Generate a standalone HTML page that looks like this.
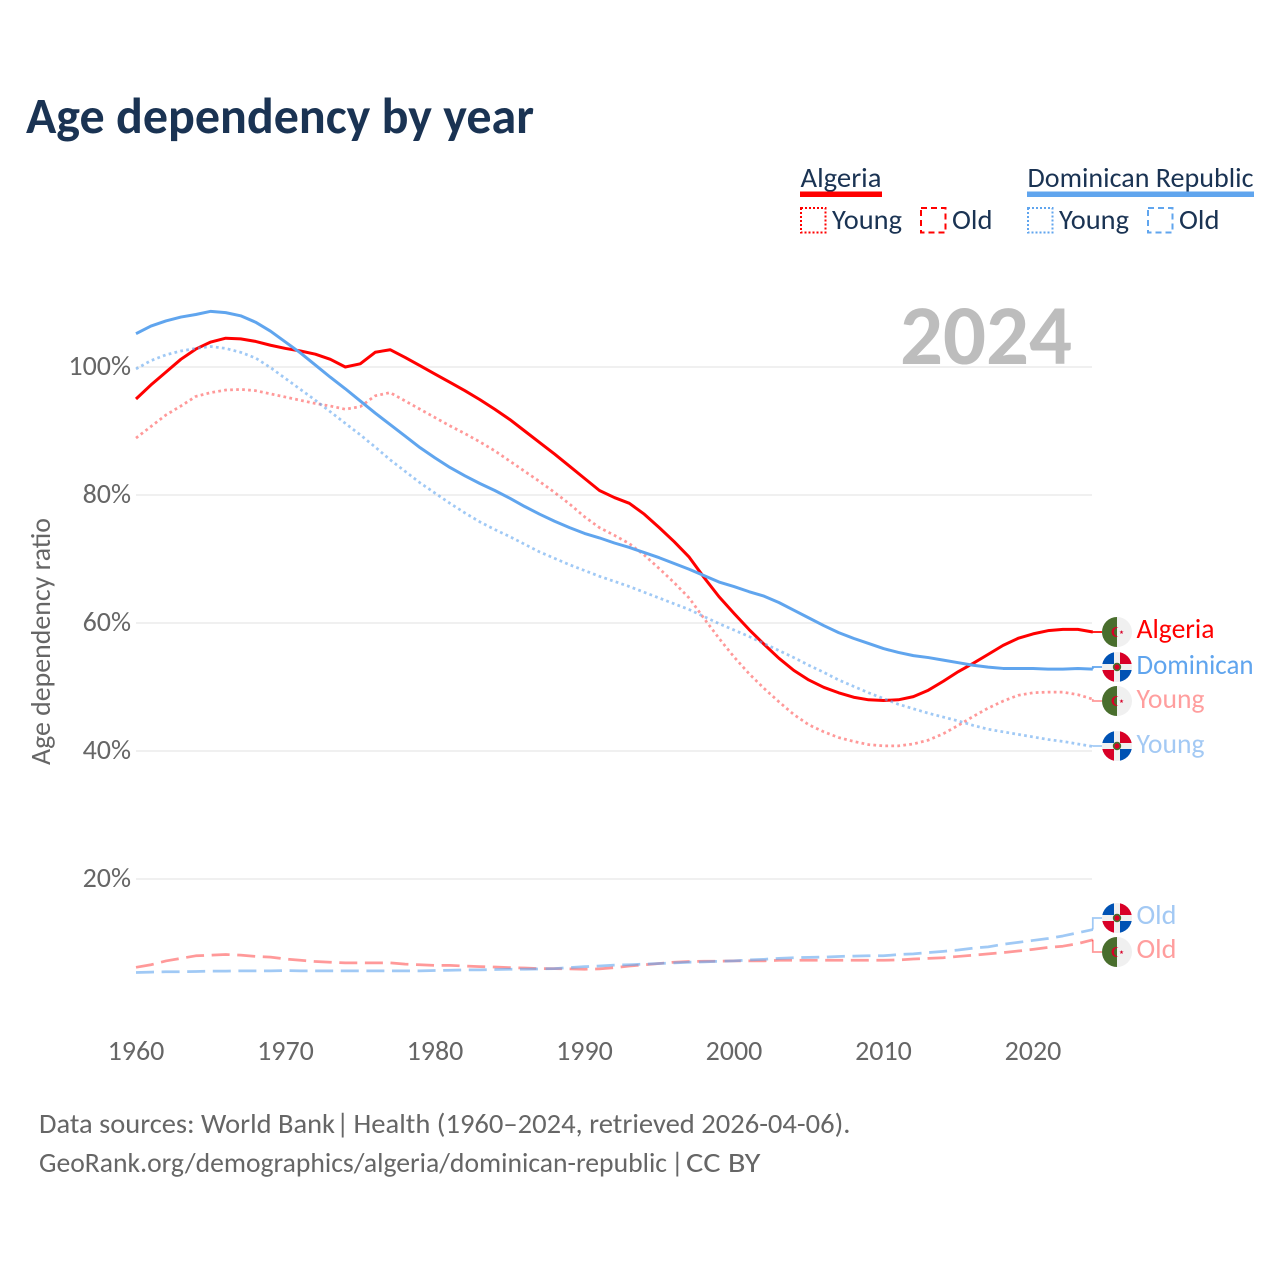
<!DOCTYPE html>
<html lang="en">
<head>
<meta charset="utf-8">
<title>Age dependency by year</title>
<style>
html,body{margin:0;padding:0;background:#fff;}
svg{display:block;font-family:"Carlito","Lato","Liberation Sans",sans-serif;}
</style>
</head>
<body>
<svg id="chart" xmlns="http://www.w3.org/2000/svg" width="1280" height="1280" viewBox="0 0 1280 1280">
<defs>
<clipPath id="flag-clip"><circle cx="0" cy="0" r="15"/></clipPath>
<g id="flag-dz">
<g clip-path="url(#flag-clip)">
<rect x="-15" y="-15" width="30" height="30" fill="#f0f0f0"/>
<rect x="-15" y="-15" width="15" height="30" fill="#496e2d"/>
</g>
<path d="M1.5,-4.6 A5,5 0 1 0 1.5,4.6 A4,4 0 1 1 1.5,-4.6 Z" fill="#d80027"/>
<polygon points="4.5,-2 5,-0.5 6.6,-0.5 5.3,0.5 5.8,2 4.5,1.1 3.2,2 3.7,0.5 2.4,-0.5 4,-0.5" fill="#d80027"/>
</g>
<g id="flag-do">
<g clip-path="url(#flag-clip)">
<rect x="-15" y="-15" width="30" height="30" fill="#f0f0f0"/>
<rect x="-15" y="-15" width="12" height="12" fill="#0052b4"/>
<rect x="3" y="-15" width="12" height="12" fill="#d80027"/>
<rect x="-15" y="3" width="12" height="12" fill="#d80027"/>
<rect x="3" y="3" width="12" height="12" fill="#0052b4"/>
</g>
<circle cx="0" cy="0" r="4.2" fill="#496e2d"/>
<circle cx="0" cy="0" r="2.6" fill="#d80027"/>
</g>
</defs>

<rect x="0" y="0" width="1280" height="1280" fill="#ffffff"/>
<text x="26" y="133" font-size="51" font-weight="700" fill="#1a3353" textLength="508" lengthAdjust="spacingAndGlyphs">Age dependency by year</text>

<g fill="#1a3353" font-size="28">
<g>
<text x="800.5" y="187" textLength="81" lengthAdjust="spacingAndGlyphs">Algeria</text>
<rect x="800" y="191.5" width="82" height="5.5" fill="#ff0000"/>
<rect x="801" y="208" width="24.5" height="24.5" fill="none" stroke="#ff0000" stroke-width="2" stroke-dasharray="2 2"/>
<text x="832" y="229" textLength="70" lengthAdjust="spacingAndGlyphs">Young</text>
<rect x="921" y="208" width="24.5" height="24.5" fill="none" stroke="#ff0000" stroke-width="2" stroke-dasharray="6 4"/>
<text x="952" y="229" textLength="40.5" lengthAdjust="spacingAndGlyphs">Old</text>
</g>
<g>
<text x="1027.5" y="187" textLength="226" lengthAdjust="spacingAndGlyphs">Dominican Republic</text>
<rect x="1027" y="191.5" width="227" height="5.5" fill="#60a5ee"/>
<rect x="1028" y="208" width="24.5" height="24.5" fill="none" stroke="#60a5ee" stroke-width="2" stroke-dasharray="2 2"/>
<text x="1059" y="229" textLength="70" lengthAdjust="spacingAndGlyphs">Young</text>
<rect x="1148" y="208" width="24.5" height="24.5" fill="none" stroke="#60a5ee" stroke-width="2" stroke-dasharray="6 4"/>
<text x="1179" y="229" textLength="40.5" lengthAdjust="spacingAndGlyphs">Old</text>
</g>
</g>

<g id="grid"></g>
<text x="900" y="364" font-size="85" font-weight="700" fill="#bdbdbd" textLength="172" lengthAdjust="spacingAndGlyphs">2024</text>
<g id="yticks"></g>
<g id="xticks"></g>
<text transform="translate(50,765) rotate(-90)" x="0" y="0" font-size="28" fill="#666666" textLength="247" lengthAdjust="spacingAndGlyphs">Age dependency ratio</text>

<g id="series"></g>

<g font-size="28">
<use href="#flag-dz" x="1117" y="632"/>
<text x="1136.5" y="638" fill="#ff0000" textLength="78" lengthAdjust="spacingAndGlyphs">Algeria</text>
<use href="#flag-do" x="1117" y="667"/>
<text x="1136.5" y="674" fill="#60a5ee" textLength="117" lengthAdjust="spacingAndGlyphs">Dominican</text>
<use href="#flag-dz" x="1117" y="701"/>
<text x="1136.5" y="708" fill="#ff9e9e" textLength="68" lengthAdjust="spacingAndGlyphs">Young</text>
<use href="#flag-do" x="1117" y="746"/>
<text x="1136.5" y="753" fill="#a3c9f4" textLength="68" lengthAdjust="spacingAndGlyphs">Young</text>
<use href="#flag-do" x="1117" y="918"/>
<text x="1136.5" y="924" fill="#a3c9f4" textLength="40" lengthAdjust="spacingAndGlyphs">Old</text>
<use href="#flag-dz" x="1117" y="952"/>
<text x="1136.5" y="958" fill="#ff9e9e" textLength="40" lengthAdjust="spacingAndGlyphs">Old</text>
</g>

<g font-size="28" fill="#666666">
<text y="1133"><tspan x="39" textLength="296" lengthAdjust="spacingAndGlyphs">Data sources: World Bank</tspan> <tspan x="336.3">|</tspan> <tspan x="353.5" textLength="497" lengthAdjust="spacingAndGlyphs">Health (1960–2024, retrieved 2026-04-06).</tspan></text>
<text y="1172"><tspan x="39" textLength="628" lengthAdjust="spacingAndGlyphs">GeoRank.org/demographics/algeria/dominican-republic</tspan> <tspan x="670.9">|</tspan> <tspan x="686" textLength="74.5" lengthAdjust="spacingAndGlyphs">CC BY</tspan></text>
</g>

<script>
const startYear = 1960;
const endYear = 2024;
const xTickYears = [1960, 1970, 1980, 1990, 2000, 2010, 2020];
const yTickValues = [20, 40, 60, 80, 100];

const algeriaTotal = [95.0,97.2,99.2,101.2,102.8,103.9,104.5,104.4,104.0,103.4,102.9,102.5,102.0,101.2,100.0,100.5,102.3,102.7,101.5,100.2,98.9,97.6,96.3,94.9,93.4,91.8,90.0,88.2,86.4,84.5,82.6,80.7,79.6,78.7,77.0,74.9,72.7,70.3,67.1,64.1,61.5,59.0,56.7,54.5,52.6,51.1,49.95,49.1,48.4,48.0,47.9,48.0,48.5,49.5,50.9,52.4,53.7,55.1,56.5,57.6,58.3,58.8,59.0,59.0,58.6];
const dominicanTotal = [105.2,106.4,107.2,107.8,108.2,108.7,108.5,108.0,107.0,105.6,103.9,102.2,100.3,98.4,96.6,94.7,92.8,91.0,89.2,87.4,85.8,84.3,83.0,81.8,80.7,79.5,78.2,77.0,75.9,74.9,74.0,73.3,72.5,71.8,71.0,70.2,69.3,68.4,67.4,66.4,65.7,64.9,64.2,63.2,62.0,60.8,59.6,58.5,57.6,56.8,56.0,55.4,54.9,54.6,54.2,53.8,53.4,53.1,52.9,52.9,52.9,52.8,52.8,52.9,52.8];
const algeriaYoung = [88.9,90.7,92.5,93.9,95.4,96.0,96.4,96.5,96.3,95.8,95.3,94.8,94.3,93.9,93.4,93.8,95.5,96.0,94.7,93.4,92.1,90.8,89.6,88.3,86.9,85.3,83.7,82.1,80.4,78.6,76.6,74.9,73.7,72.4,70.6,68.5,66.3,63.9,60.7,57.6,54.7,52.1,49.8,47.7,45.7,44.1,43.0,42.1,41.5,41.0,40.8,40.8,41.1,41.7,42.7,44.0,45.4,46.7,47.8,48.7,49.1,49.2,49.2,48.8,48.1];
const dominicanYoung = [99.7,101.0,101.9,102.5,102.9,103.2,102.9,102.3,101.4,99.9,98.2,96.5,94.8,93.0,91.2,89.4,87.5,85.5,83.7,81.9,80.3,78.7,77.2,75.8,74.6,73.5,72.3,71.1,70.1,69.1,68.2,67.3,66.5,65.7,64.8,63.9,63.0,62.1,61.0,59.9,58.9,57.9,56.8,55.7,54.6,53.4,52.3,51.1,50.1,49.1,48.2,47.3,46.6,45.9,45.3,44.7,44.0,43.4,43.0,42.6,42.2,41.8,41.5,41.1,40.7];
const algeriaOld = [6.2,6.6,7.2,7.6,8.0,8.1,8.2,8.1,7.9,7.8,7.5,7.3,7.1,7.0,6.9,6.9,6.9,6.9,6.7,6.6,6.5,6.5,6.4,6.3,6.25,6.15,6.1,6.0,6.0,5.95,5.9,5.95,6.15,6.4,6.6,6.8,7.0,7.1,7.15,7.15,7.2,7.2,7.2,7.3,7.3,7.3,7.3,7.3,7.3,7.3,7.3,7.35,7.5,7.6,7.7,7.9,8.1,8.3,8.5,8.75,9.0,9.3,9.5,9.9,10.5];
const dominicanOld = [5.4,5.45,5.5,5.5,5.55,5.6,5.6,5.65,5.65,5.65,5.7,5.65,5.65,5.65,5.65,5.65,5.65,5.65,5.65,5.65,5.7,5.75,5.8,5.8,5.85,5.9,5.9,5.95,6.0,6.15,6.3,6.4,6.55,6.6,6.7,6.8,6.9,7.0,7.05,7.15,7.2,7.35,7.45,7.6,7.7,7.75,7.8,7.9,7.95,8.0,8.0,8.2,8.3,8.5,8.7,8.9,9.2,9.4,9.8,10.1,10.4,10.7,11.1,11.6,12.1];

const SVG_NS = 'http://www.w3.org/2000/svg';
function xScale(year) { return 136 + (year - startYear) * 14.95; }
function yScale(value) { return 1007 - value * 6.4; }
function makeSvg(tag, attrs, parent) {
  const node = document.createElementNS(SVG_NS, tag);
  for (const key in attrs) node.setAttribute(key, attrs[key]);
  parent.appendChild(node);
  return node;
}

const gridGroup = document.getElementById('grid');
const yTickGroup = document.getElementById('yticks');
const xTickGroup = document.getElementById('xticks');
const seriesGroup = document.getElementById('series');

yTickValues.forEach(function (value) {
  const grid = makeSvg('line', {x1: 136, x2: 1092, y1: yScale(value), y2: yScale(value), stroke: '#ebebeb', 'stroke-width': 1.5}, gridGroup);
  
  
  const label = makeSvg('text', {x: 131, y: yScale(value) + 8, 'text-anchor': 'end', 'font-size': 28, fill: '#666666'}, yTickGroup);
  label.textContent = value + '%';
  
  
});

xTickYears.forEach(function (year) {
  const label = makeSvg('text', {x: xScale(year), y: 1060, 'text-anchor': 'middle', 'font-size': 28, fill: '#666666'}, xTickGroup);
  label.textContent = String(year);
  
  
});

function drawSeries(name, values, color, opacity, dash, flagY) {
  const pts = values.map(function (value, i) {
    return xScale(startYear + i).toFixed(2) + ',' + yScale(value).toFixed(2);
  }).join(' ');
  const line = makeSvg('polyline', {points: pts, fill: 'none', stroke: color, 'stroke-opacity': opacity, 'stroke-width': dash ? 2.75 : 3, 'stroke-linejoin': 'round'}, seriesGroup);
  if (dash) line.setAttribute('stroke-dasharray', dash);
  
  
  const endX = xScale(endYear);
  const endY = yScale(values[values.length - 1]);
  const leader = makeSvg('polyline', {points: endX + ',' + endY + ' ' + endX + ',' + flagY + ' 1102,' + flagY, fill: 'none', stroke: color, 'stroke-opacity': opacity, 'stroke-width': 1.75}, seriesGroup);
  
  
}

drawSeries('algeria-old', algeriaOld, '#ff0000', 0.4, '18 7.6', 952);
drawSeries('algeria-young', algeriaYoung, '#ff0000', 0.4, '2.75 3.25', 701);
drawSeries('algeria-total', algeriaTotal, '#ff0000', 1, '', 632);
drawSeries('dominican-old', dominicanOld, '#60a5ee', 0.6, '18 7.6', 918);
drawSeries('dominican-young', dominicanYoung, '#60a5ee', 0.6, '2.75 3.25', 746);
drawSeries('dominican-total', dominicanTotal, '#60a5ee', 1, '', 667);
</script>
</svg>
</body>
</html>
